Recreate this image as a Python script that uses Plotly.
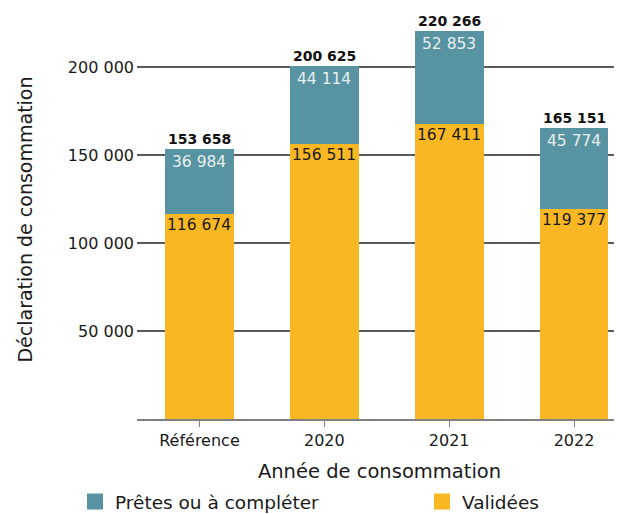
import plotly.graph_objects as go

# Données
annees = ["Référence", "2020", "2021", "2022"]
validees = [116674, 156511, 167411, 119377]
pretes = [36984, 44114, 52853, 45774]
totaux = [153658, 200625, 220266, 165151]
y_ticks = [50000, 100000, 150000, 200000]

JAUNE = "#F9B823"
BLEU = "#5793A0"
POLICE = "DejaVu Sans, sans-serif"


def fmt(n):
    return f"{n:,}".replace(",", " ")


fig = go.Figure()

fig.add_trace(go.Bar(
    x=annees, y=validees, name="Validées",
    marker=dict(color=JAUNE, line_width=0),
    showlegend=False, legend="legend2",
))
fig.add_trace(go.Bar(
    x=annees, y=pretes, name="Prêtes ou à compléter",
    marker=dict(color=BLEU, line_width=0),
    showlegend=False,
))

# étiquettes : valeur en haut de chaque segment, total au-dessus
# (x en indice de catégorie : "2020" serait lu comme un nombre)
for i, (v, p, t) in enumerate(zip(validees, pretes, totaux)):
    fig.add_annotation(x=i, y=v, text=fmt(v), showarrow=False,
                       yanchor="middle", yshift=-11,
                       font=dict(size=15.5, color="#1a1a1a"))
    fig.add_annotation(x=i, y=v + p, text=fmt(p), showarrow=False,
                       yanchor="middle", yshift=-13,
                       font=dict(size=15.5, color="#e8eff1"))
    fig.add_annotation(x=i, y=t, text=f"<b>{fmt(t)}</b>", showarrow=False,
                       yanchor="middle", yshift=10,
                       font=dict(size=14, color="#111111"))

# entrées de légende (carrés), une légende par entrée pour l'espacement
fig.add_trace(go.Scatter(
    x=[None], y=[None], mode="markers", name="Prêtes ou à compléter",
    marker=dict(symbol="square", size=18, color=BLEU), legend="legend",
))
fig.add_trace(go.Scatter(
    x=[None], y=[None], mode="markers", name="Validées",
    marker=dict(symbol="square", size=18, color=JAUNE), legend="legend2",
))

leg = dict(orientation="h", xanchor="left", yanchor="middle",
           xref="container", yref="container", y=0.0237,
           font=dict(size=18.5), bgcolor="rgba(0,0,0,0)")

# la page ajoute 8 px de marge : figure 614x506
fig.update_layout(
    barmode="stack",
    bargap=0.45,
    width=614, height=506,
    margin=dict(l=129, r=0, t=12, b=95),
    plot_bgcolor="white",
    paper_bgcolor="white",
    font=dict(family=POLICE, size=16, color="#1a1a1a"),
    legend=dict(leg, x=0.1091),
    legend2=dict(leg, x=0.6743),
)

fig.update_xaxes(
    range=[-0.5, 3.384], automargin=False,
    showline=True, linecolor="#808080", linewidth=1.5,
    ticks="outside", ticklen=6, tickcolor="#808080",
    tickfont=dict(size=16),
    title=dict(text="Année de consommation", font=dict(size=19.5), standoff=15),
)
fig.update_yaxes(
    range=[0, 226700], automargin=False,
    tickvals=y_ticks, ticktext=[fmt(v) for v in y_ticks],
    showgrid=True, gridcolor="#5a5a5a", gridwidth=1.6,
    zeroline=False, ticks="", ticklabelstandoff=2,
    tickfont=dict(size=16),
    title=dict(text="Déclaration de consommation", font=dict(size=19), standoff=30),
)

fig.write_html("out.html")
